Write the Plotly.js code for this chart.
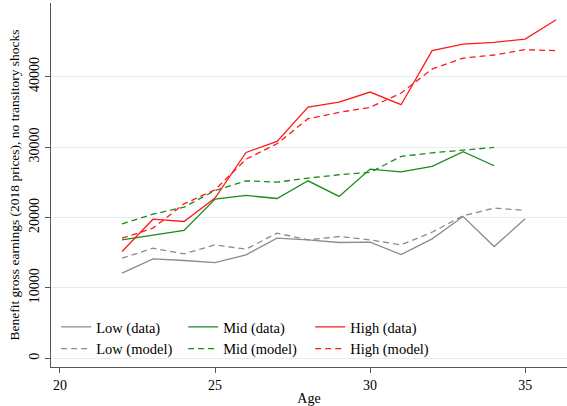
<!DOCTYPE html>
<html>
<head>
<meta charset="utf-8">
<script src="https://cdn.plot.ly/plotly-3.0.1.min.js"></script>
<style>body{margin:0}#chart{width:567px;height:406px}</style>
</head>
<body>
<div id="chart"></div>
<script>
// ages
var ages = [22,23,24,25,26,27,28,29,30,31,32,33,34,35,36];

var lowData   = [12090,14120,13890,13600,14690,17060,16820,16450,16490,14740,16970,20140,15880,19810];
var lowModel  = [14220,15640,14830,16110,15500,17770,16820,17300,16820,16110,17910,20240,21330,21000];
var midData   = [16820,17440,18150,22610,23130,22700,25210,22990,26870,26490,27250,29340,27350];
var midModel  = [19100,20470,21470,23840,25210,25020,25590,26070,26400,28670,29190,29530,29950];
var highData  = [15170,19760,19430,22750,29240,30800,35690,36400,37820,36020,43700,44640,44880,45350,48100];
var highModel = [17060,18480,21940,23930,28290,30470,34030,34930,35640,37680,41090,42650,43080,43840,43700];

var grey = '#8c8c8c', green = '#1a8a1a', red = '#ff1a1a';

function tr(name, ys, color, dash, leg) {
    return {x: ages.slice(0, ys.length), y: ys, name: name, mode: 'lines', type: 'scatter',
        line: {color: color, width: 1.3, dash: dash}, legend: leg};
}

var data = [
    tr('Low (data)', lowData, grey, 'solid', 'legend'),
    tr('Mid (data)', midData, green, 'solid', 'legend'),
    tr('High (data)', highData, red, 'solid', 'legend'),
    tr('Low (model)', lowModel, grey, '6px,4px', 'legend2'),
    tr('Mid (model)', midModel, green, '6px,4px', 'legend2'),
    tr('High (model)', highModel, red, '6px,4px', 'legend2')
];

var legBase = {orientation: 'h', xanchor: 'left', yanchor: 'middle', x: 0.01,
    entrywidth: 82, bgcolor: 'rgba(0,0,0,0)', font: {size: 14.5, color: '#000'}, tracegroupgap: 0, itemwidth: 30};

var layout = {
    width: 567, height: 406,
    margin: {l: 51, r: 0, t: 3, b: 39},
    paper_bgcolor: '#fff', plot_bgcolor: '#fff',
    font: {family: 'Liberation Serif, Times New Roman, serif', size: 14, color: '#000'},
    showlegend: true,
    legend: Object.assign({}, legBase, {y: 0.11}),
    legend2: Object.assign({}, legBase, {y: 0.05}),
    xaxis: {range: [19.71, 36.35], tickvals: [20,25,30,35], showgrid: false, zeroline: false,
        showline: true, linecolor: '#555', ticks: 'outside', ticklen: 5, tickcolor: '#555',
        title: {text: 'Age', standoff: 2, font: {size: 14}}},
    yaxis: {range: [-1240, 50470], tickvals: [0,10000,20000,30000,40000], tickformat: 'd', tickangle: -90,
        showgrid: true, gridcolor: '#e4eef0', gridwidth: 1, zeroline: false,
        showline: true, linecolor: '#555', ticks: 'outside', ticklen: 5, tickcolor: '#555',
        title: {text: 'Benefit gross earnings (2018 prices), no transitory shocks', standoff: 4, font: {size: 13.5}}}
};

Plotly.newPlot('chart', data, layout, {displayModeBar: false});
</script>
</body>
</html>
